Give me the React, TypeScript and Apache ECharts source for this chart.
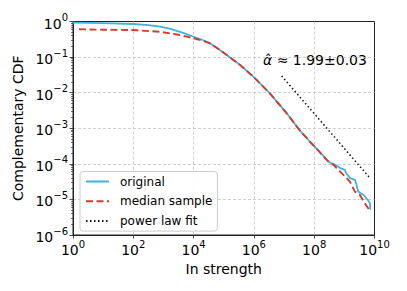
import React, { useEffect, useRef } from "react";
import * as echarts from "echarts";

// ---- data ----
const origStrength = [
  1, 10, 100, 316, 776, 1585, 3548, 5623, 1e4, 1.41e4, 2e4, 3.47e4, 6.31e4,
  1.26e5, 2.09e5, 3.47e5, 9.55e5, 3.39e6, 1.23e7, 3.39e7, 7.24e7, 1e8, 2.95e8,
  3.55e8, 4.27e8, 5.62e8, 7.24e8, 1.05e9, 1.12e9, 1.55e9, 2.24e9, 2.51e9,
  2.88e9, 3.55e9, 4.27e9, 6.17e9, 7.08e9, 7.24e9,
];
const origCCDF = [
  0.925, 0.902, 0.851, 0.794, 0.714, 0.631, 0.513, 0.447, 0.372, 0.335, 0.302,
  0.245, 0.174, 0.115, 0.0832, 0.0603, 0.0282, 0.00955, 0.00263, 8.51e-4,
  4.17e-4, 3.16e-4, 1.17e-4, 1.05e-4, 1.0e-4, 8.91e-5, 7.59e-5, 6.76e-5,
  5.62e-5, 3.98e-5, 3.55e-5, 2.63e-5, 1.66e-5, 1.48e-5, 1.35e-5, 9.33e-6,
  7.76e-6, 5.13e-6,
];
const medStrength = [
  1.58, 10, 100, 776, 3548, 1e4, 2e4, 3.47e4, 6.31e4, 1.26e5, 2.09e5, 3.47e5,
  9.55e5, 3.39e6, 1.23e7, 3.39e7, 7.24e7, 1e8, 2.95e8, 4.27e8, 7.24e8, 1.05e9,
  1.55e9, 2.24e9, 3.24e9, 5.5e9, 7.41e9,
];
const medCCDF = [
  0.603, 0.589, 0.575, 0.513, 0.417, 0.339, 0.288, 0.245, 0.174, 0.115,
  0.0832, 0.0603, 0.0282, 0.00955, 0.00263, 8.51e-4, 4.17e-4, 3.16e-4,
  1.15e-4, 9.55e-5, 6.03e-5, 4.47e-5, 3.09e-5, 1.66e-5, 1.35e-5, 6.46e-6,
  4.57e-6,
];
const fitStrength = [8.3e6, 7.08e9];
const fitCCDF = [0.0295, 3.98e-5];

const xTicks = [1, 1e2, 1e4, 1e6, 1e8, 1e10];
const yTicks = [1e-6, 1e-5, 1e-4, 1e-3, 1e-2, 1e-1, 1];
const yMinorTicks: number[] = [];
for (let e = -6; e < 0; e++) {
  for (let k = 2; k <= 9; k++) yMinorTicks.push(k * Math.pow(10, e));
}
const annotation = "{a|α̂}{b| ≈ 1.99±0.03}";

const FONT = "DejaVu Sans";

function pow10Label(v: number) {
  const e = Math.round(Math.log10(v));
  const s = e < 0 ? "\u2212" + String(-e) : String(e);
  return `{b|10}{s|${s}}`;
}

const labelRich = {
  b: { fontSize: 14, fontFamily: FONT, color: "#000", lineHeight: 18, verticalAlign: "bottom" },
  s: { fontSize: 10, fontFamily: FONT, color: "#000", lineHeight: 18, verticalAlign: "top" },
};

const gridLine = {
  show: true,
  showMinLine: false,
  showMaxLine: false,
  lineStyle: { type: [3, 2], color: "#c4c4c4", width: 0.8 },
};

export default function App() {
  const ref = useRef<HTMLDivElement>(null);
  useEffect(() => {
    if (!ref.current) return;
    const chart = echarts.init(ref.current, null, { renderer: "svg" });
    const zip = (xs: number[], ys: number[]) => xs.map((x, i) => [x, ys[i]]);
    chart.setOption({
      animation: false,
      backgroundColor: "#fff",
      grid: {
        left: 73,
        right: 32.5,
        top: 21.5,
        bottom: 56,
        show: true,
        borderColor: "#222",
        borderWidth: 1,
        backgroundColor: "transparent",
      },
      legend: {
        orient: "vertical",
        left: 80,
        top: 171.5,
        padding: [4, 5, 4, 5],
        itemWidth: 23,
        itemHeight: 10,
        itemGap: 7.8,
        backgroundColor: "rgba(255,255,255,0.85)",
        borderColor: "#ccc",
        borderWidth: 1,
        borderRadius: 3,
        itemStyle: { opacity: 0 },
        textStyle: { fontSize: 12, fontFamily: FONT, color: "#000", padding: [0, 0, 0, 6] },
        data: ["original", "median sample", "power law fit"],
      },
      xAxis: {
        type: "log",
        logBase: 10,
        min: 1,
        max: 1e10,
        name: "In strength",
        nameLocation: "middle",
        nameGap: 22,
        nameTextStyle: { fontSize: 14, fontFamily: FONT, color: "#000" },
        axisLine: { show: true, lineStyle: { color: "#222", width: 1 } },
        axisTick: { show: true, customValues: xTicks, length: 3.5, inside: false, lineStyle: { color: "#222", width: 0.8 } },
        axisLabel: { customValues: xTicks, margin: 4, formatter: pow10Label, rich: labelRich },
        splitLine: gridLine,
      },
      yAxis: [
        {
          type: "log",
          logBase: 10,
          min: 1e-6,
          max: 1,
          name: "Complementary CDF",
          nameLocation: "middle",
          nameGap: 42,
          nameTextStyle: { fontSize: 14, fontFamily: FONT, color: "#000" },
          axisLine: { show: true, lineStyle: { color: "#222", width: 1 } },
          axisTick: { show: true, customValues: yTicks, length: 3.5, inside: false, lineStyle: { color: "#222", width: 0.8 } },
          axisLabel: { customValues: yTicks, margin: 5, formatter: pow10Label, rich: labelRich },
          splitLine: gridLine,
        },
        {
          type: "log",
          logBase: 10,
          min: 1e-6,
          max: 1,
          position: "left",
          offset: 0,
          axisLine: { show: false },
          axisTick: { show: true, customValues: yMinorTicks, length: 2, inside: false, lineStyle: { color: "#222", width: 0.6 } },
          axisLabel: { show: false },
          splitLine: { show: false },
        },
      ],
      series: [
        {
          name: "original",
          type: "line",
          data: zip(origStrength, origCCDF),
          showSymbol: false,
          symbol: "none",
          lineStyle: { color: "#45b0dc", width: 1.8 },
          itemStyle: { color: "#45b0dc" },
          z: 3,
        },
        {
          name: "median sample",
          type: "line",
          data: zip(medStrength, medCCDF),
          showSymbol: false,
          symbol: "none",
          lineStyle: { color: "#d33b2c", width: 1.9, type: [7, 3.5] },
          itemStyle: { color: "#d33b2c" },
          z: 4,
        },
        {
          name: "power law fit",
          type: "line",
          data: zip(fitStrength, fitCCDF),
          showSymbol: false,
          symbol: "none",
          lineStyle: { color: "#111", width: 1.5, type: [1.5, 2.5] },
          itemStyle: { color: "#111" },
          z: 5,
        },
      ],
      graphic: [
        {
          type: "text",
          left: 263,
          top: 53,
          style: {
            text: annotation,
            rich: {
              a: { fontSize: 14, fontFamily: FONT, fontStyle: "italic", fill: "#000" },
              b: { fontSize: 14, fontFamily: FONT, fill: "#000" },
            },
            fill: "#000",
          },
        },
      ],
    });
    return () => chart.dispose();
  }, []);
  return (
    <div
      ref={ref}
      style={{ position: "absolute", left: 0, top: 0, width: 407, height: 291 }}
    />
  );
}
